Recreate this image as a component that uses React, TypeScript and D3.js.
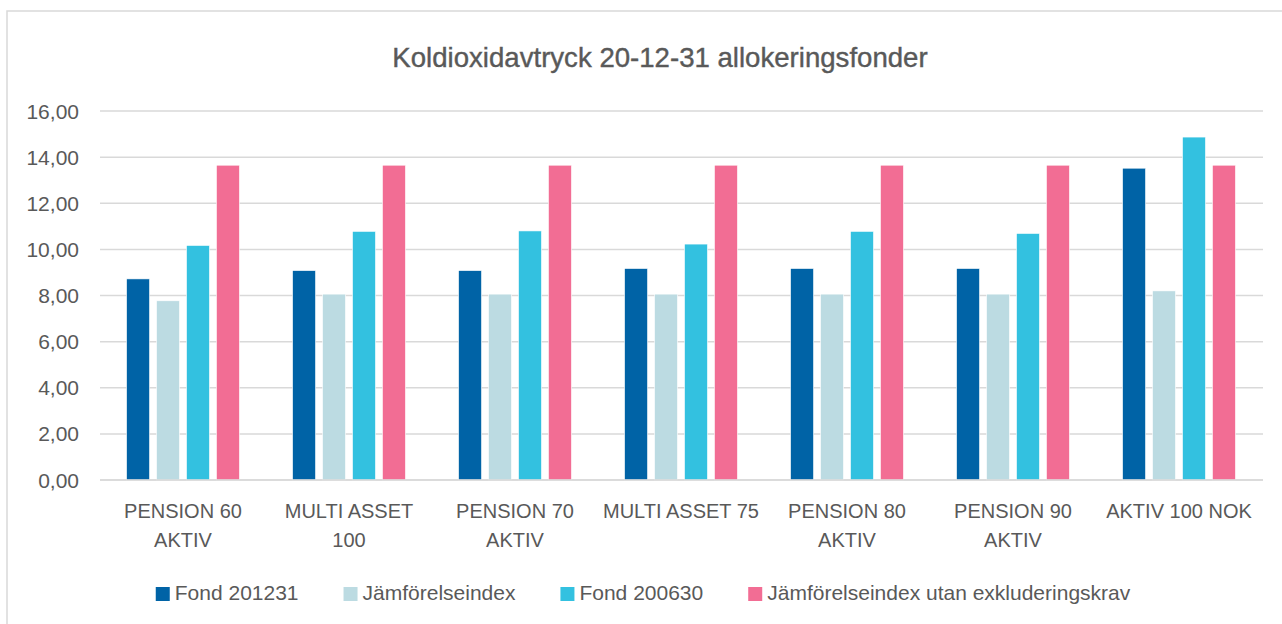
import React, { useEffect, useRef } from "react";
import * as d3 from "d3";

const categories: string[][] = [
  ["PENSION 60", "AKTIV"],
  ["MULTI ASSET", "100"],
  ["PENSION 70", "AKTIV"],
  ["MULTI ASSET 75"],
  ["PENSION 80", "AKTIV"],
  ["PENSION 90", "AKTIV"],
  ["AKTIV 100 NOK"],
];
const seriesNames = [
  "Fond 201231",
  "Jämförelseindex",
  "Fond 200630",
  "Jämförelseindex utan exkluderingskrav",
];
const fond201231 = [8.72, 9.08, 9.08, 9.17, 9.17, 9.17, 13.52];
const jamforelseindex = [7.77, 8.06, 8.06, 8.06, 8.06, 8.06, 8.2];
const fond200630 = [10.17, 10.78, 10.8, 10.23, 10.78, 10.69, 14.87];
const utanExkludering = [13.65, 13.65, 13.65, 13.65, 13.65, 13.65, 13.65];
const yTicks = [0, 2, 4, 6, 8, 10, 12, 14, 16];
const colors = ["#0063a6", "#bcdbe2", "#33c1e0", "#f26d94"];
const title = "Koldioxidavtryck 20-12-31 allokeringsfonder";

const FONT = "'Liberation Sans', Arial, Helvetica, sans-serif";
const TEXT = "#595959";
const GRID = "#d9d9d9";

export default function App() {
  const ref = useRef<SVGSVGElement | null>(null);

  useEffect(() => {
    const svg = d3.select(ref.current);
    svg.selectAll("*").remove();

    const W = 1282, H = 624;
    const left = 100, right = 1262, top = 111, bottom = 480;
    const series = [fond201231, jamforelseindex, fond200630, utanExkludering];

    svg.append("rect").attr("x", 7).attr("y", 11).attr("width", W + 20).attr("height", H + 20)
      .attr("fill", "#fff").attr("stroke", GRID).attr("stroke-width", 1.5);

    const x0 = d3.scaleBand<number>().domain(d3.range(categories.length)).range([left, right])
      .paddingInner(0.32).paddingOuter(0.16);
    const x1 = d3.scaleBand<number>().domain(d3.range(series.length)).range([0, x0.bandwidth()])
      .paddingInner(0.233).paddingOuter(0);
    const y = d3.scaleLinear().domain([0, 16]).range([bottom, top]);

    svg.append("text").attr("x", 660).attr("y", 67).attr("text-anchor", "middle")
      .attr("font-family", FONT).attr("font-size", 27.6).attr("fill", TEXT)
      .attr("stroke", TEXT).attr("stroke-width", 0.4).text(title);

    const g = svg.append("g");
    g.selectAll("line.grid").data(yTicks).enter().append("line")
      .attr("x1", left).attr("x2", right + 1).attr("y1", (d) => y(d)).attr("y2", (d) => y(d))
      .attr("stroke", GRID).attr("stroke-width", 1.5);

    g.selectAll("text.ytick").data(yTicks).enter().append("text")
      .attr("x", 79).attr("y", (d) => y(d) + 7.5).attr("text-anchor", "end")
      .attr("font-family", FONT).attr("font-size", 21).attr("fill", TEXT)
      .text((d) => d3.format(".2f")(d).replace(".", ","));

    series.forEach((vals, si) => {
      g.selectAll(`rect.s${si}`).data(vals).enter().append("rect")
        .attr("x", (_d, i) => (x0(i) as number) + (x1(si) as number))
        .attr("width", x1.bandwidth())
        .attr("y", (d) => y(d))
        .attr("height", (d) => bottom - y(d))
        .attr("fill", colors[si])
        .attr("stroke", "#ffffff").attr("stroke-width", 0.6);
    });

    g.append("line").attr("x1", left).attr("x2", right + 1).attr("y1", bottom).attr("y2", bottom)
      .attr("stroke", GRID).attr("stroke-width", 1.5);

    categories.forEach((lines, i) => {
      const cx = (x0(i) as number) + x0.bandwidth() / 2;
      const t = g.append("text").attr("text-anchor", "middle")
        .attr("font-family", FONT).attr("font-size", 20).attr("fill", TEXT);
      lines.forEach((ln, li) => {
        t.append("tspan").attr("x", cx).attr("y", 518 + li * 29).text(ln);
      });
    });

    const lg = svg.append("g");
    const items = seriesNames.map((name, i) => {
      const it = lg.append("g");
      it.append("rect").attr("x", 0).attr("y", 587).attr("width", 14).attr("height", 14).attr("fill", colors[i]);
      const tx = it.append("text").attr("x", 19).attr("y", 600)
        .attr("font-family", FONT).attr("font-size", 21).attr("fill", TEXT).text(name);
      const w = 19 + (tx.node() as SVGTextElement).getComputedTextLength();
      return { it, w };
    });
    const gap = 45;
    const total = d3.sum(items, (d) => d.w) + gap * (items.length - 1);
    let cur = 643 - total / 2;
    items.forEach(({ it, w }) => {
      it.attr("transform", `translate(${cur},0)`);
      cur += w + gap;
    });
  }, []);

  return (
    <svg ref={ref} width={1282} height={624}
      style={{ position: "absolute", left: 0, top: 0, background: "#fff" }} />
  );
}
